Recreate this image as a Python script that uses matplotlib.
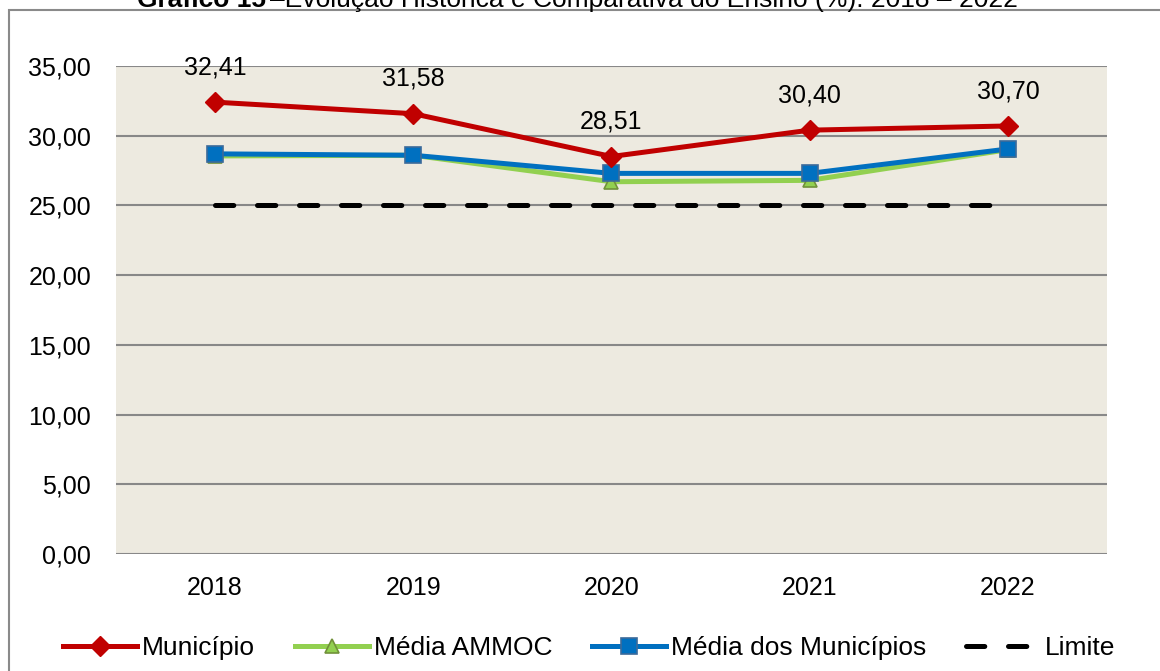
import matplotlib.pyplot as plt
from matplotlib.patches import Rectangle
from matplotlib.ticker import FuncFormatter

plt.rcParams['font.family'] = ['Liberation Sans', 'DejaVu Sans']

anos = ['2018', '2019', '2020', '2021', '2022']
municipio = [32.41, 31.58, 28.51, 30.40, 30.70]
media_ammoc = [28.55, 28.6, 26.7, 26.8, 29.0]
media_municipios = [28.7, 28.6, 27.3, 27.3, 29.05]
limite = [25, 25, 25, 25, 25]

x = list(range(len(anos)))

fig = plt.figure(figsize=(11.6, 6.71), dpi=100)
ax = fig.add_axes([0.1, 0.1744, 0.8543, 0.7272])
ax.set_facecolor('#EDEAE0')

# moldura do gráfico
fig.patches.append(Rectangle((9 / 1160, -0.1), 1.2, 1 - 10 / 671 + 0.1, transform=fig.transFigure,
                             fill=False, edgecolor='#8a8a8a', linewidth=1.5))

ax.plot(x, limite, color='black', linewidth=3.6, dashes=(3.66, 4.74),
        dash_capstyle='round', label='Limite', zorder=2)
ax.plot(x, media_ammoc, color='#92D050', linewidth=3.6, marker='^', markersize=10,
        markerfacecolor='#92D050', markeredgecolor='#71913A', markeredgewidth=1.2,
        label='Média AMMOC', zorder=3)
ax.plot(x, media_municipios, color='#0070C0', linewidth=3.6, marker='s', markersize=11,
        markerfacecolor='#0070C0', markeredgecolor='#3B6A9A', markeredgewidth=1.2,
        label='Média dos Municípios', zorder=4)
ax.plot(x, municipio, color='#C00000', linewidth=3.6, marker='D', markersize=10,
        markerfacecolor='#C00000', markeredgecolor='#C00000',
        label='Município', zorder=5)

for xi, v in zip(x, municipio):
    ax.annotate(f'{v:.2f}'.replace('.', ','), (xi, v), xytext=(0, 25),
                textcoords='offset points', ha='center', va='center', fontsize=18)

ax.set_xlim(-0.5, 4.5)
ax.set_ylim(0, 35)
ax.set_yticks(range(0, 36, 5))
ax.yaxis.set_major_formatter(FuncFormatter(lambda v, p: f'{v:.2f}'.replace('.', ',')))
ax.set_xticks(x)
ax.set_xticklabels(anos)
ax.tick_params(axis='both', length=0, labelsize=18)
ax.tick_params(axis='x', pad=16)
ax.tick_params(axis='y', pad=18)
ax.grid(axis='y', color='#888888', linewidth=1.5)
ax.set_axisbelow(True)
for s in ax.spines.values():
    s.set_visible(False)

# título (cortado no topo, como no original)
fig.text(0.2293, 1 - 7 / 671, 'Gráfico 15', fontsize=19, fontweight='bold',
         ha='right', va='baseline')
fig.text(0.2328, 1 - 7 / 671, '–Evolução Histórica e Comparativa do Ensino (%): 2018 – 2022',
         fontsize=19, ha='left', va='baseline')

handles, labels = ax.get_legend_handles_labels()
order = [3, 1, 2, 0]
fig.legend([handles[i] for i in order], [labels[i] for i in order], loc='center',
           bbox_to_anchor=(0.508, 0.034), ncol=4, frameon=False, fontsize=19,
           handlelength=2.8, handletextpad=0.2, columnspacing=1.5, borderaxespad=0)

fig.savefig('out.png', dpi=100)
